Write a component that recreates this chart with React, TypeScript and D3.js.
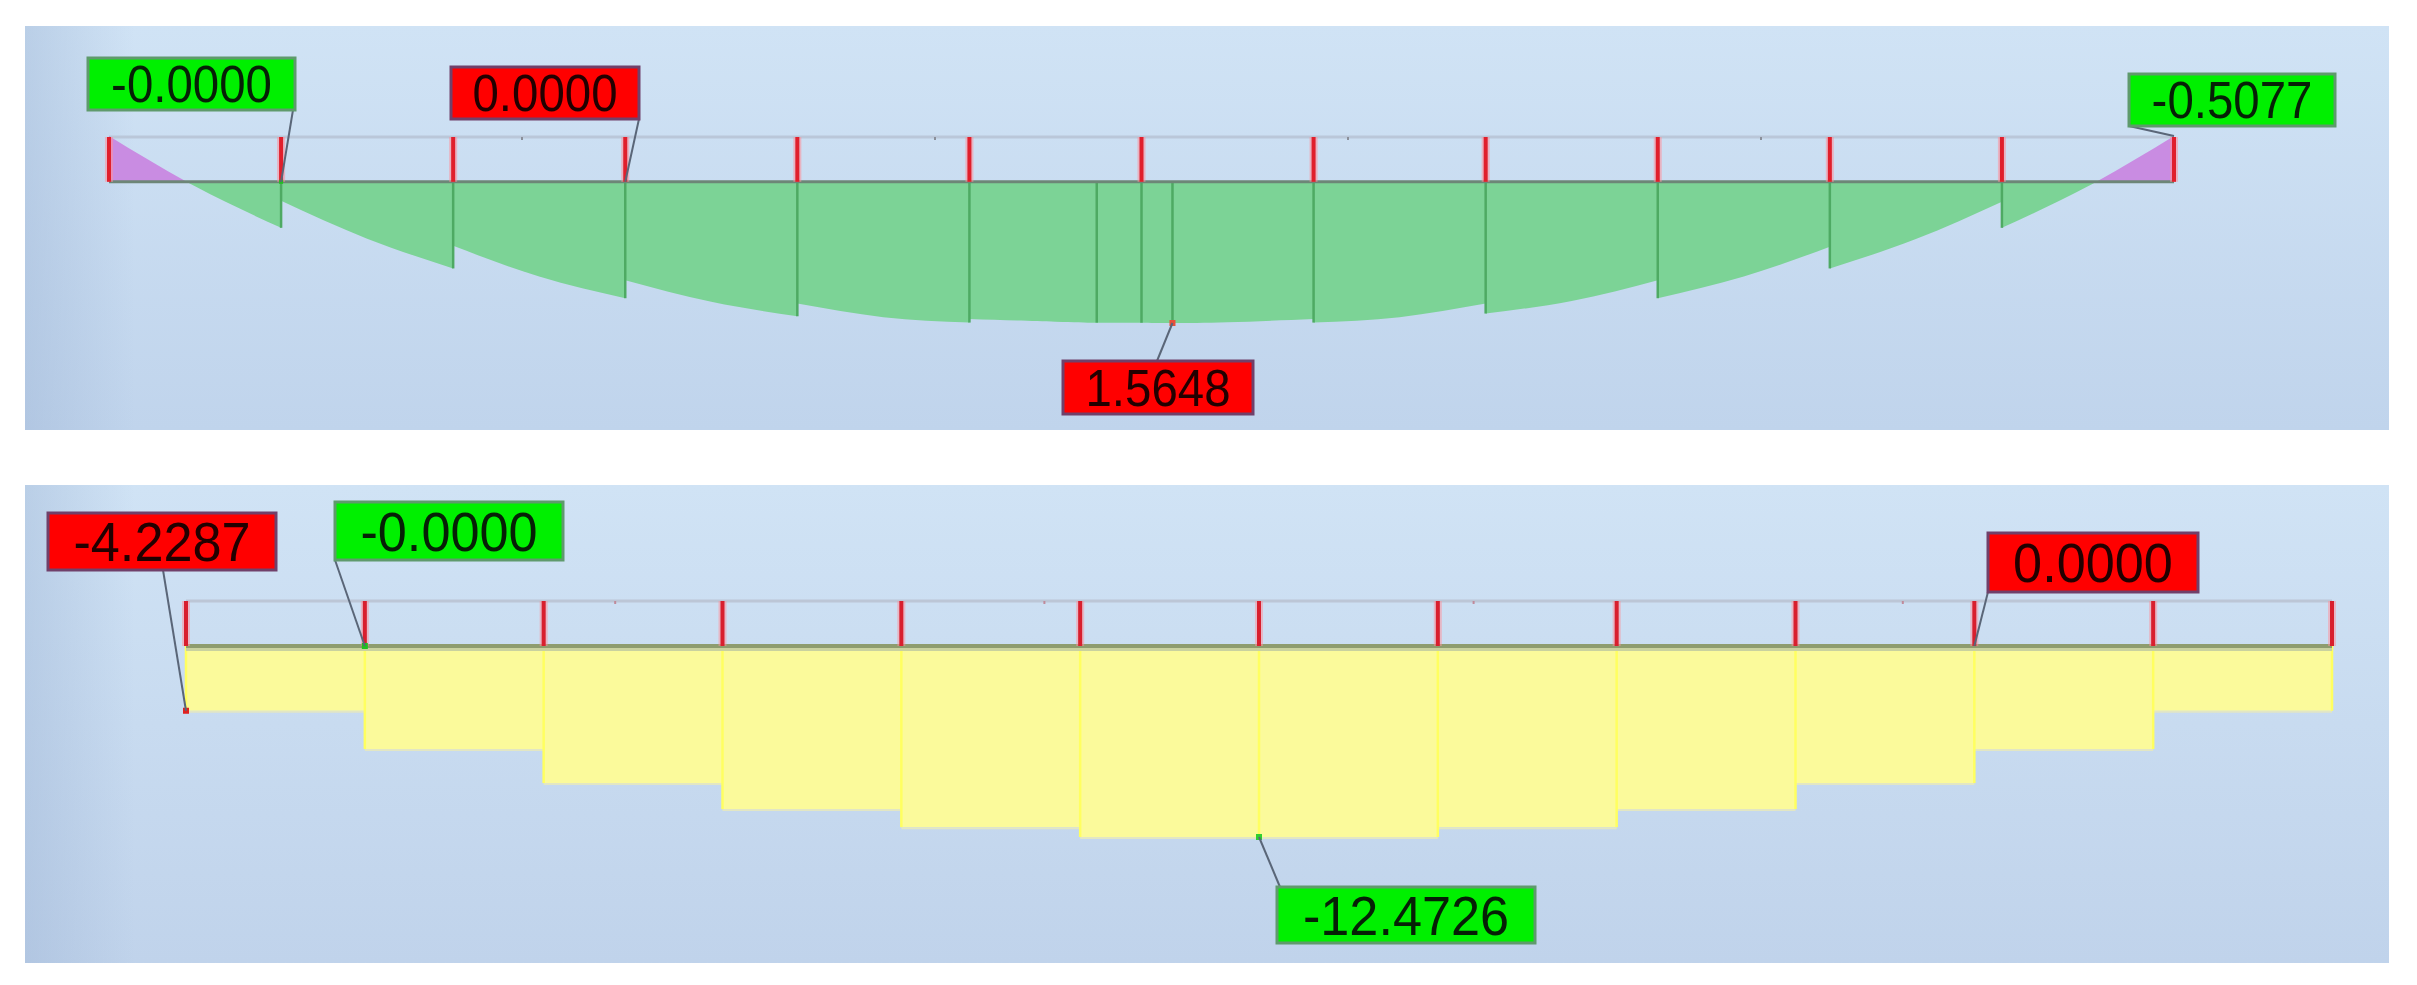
import React from 'react';
import * as d3 from 'd3';

const W = 2417;
const H = 985;

// ---------- DATA ----------
// support positions along the beam (span units)
const supports = [0, 1, 2, 3, 4, 5, 6, 7, 8, 9, 10, 11, 12];
// top diagram: moment per segment (start / mid / end)
const momentStart = [-0.5077, 0.21, 0.71, 1.09, 1.35, 1.52, 1.562, 1.56, 1.46, 1.29, 0.96, 0.51];
const momentMid = [0.05, 0.63, 1.05, 1.33, 1.5, 1.55, 1.556, 1.5, 1.32, 1.05, 0.635, 0.05];
const momentEnd = [0.51, 0.96, 1.29, 1.49, 1.56, 1.562, 1.52, 1.35, 1.09, 0.72, 0.22, -0.5077];
// extra section points inside the segments
const sectionX = [5.74, 6.18];
const sectionM = [1.561, 1.5648];
// small marks on the reference line
const minorMarks = [2.4, 4.8, 7.2, 9.6];
// bottom diagram: constant value per span
const shearValues = [-4.2287, -6.73, -8.95, -10.65, -11.83, -12.4726, -12.4726, -11.83, -10.65, -8.95, -6.73, -4.2287];

// labels: text, kind (max = red, min = green), anchor position (span units, value)
const topLabelText = ['-0.0000', '0.0000', '1.5648', '-0.5077'];
const topLabelKind = ['min', 'max', 'max', 'min'];
const topLabelAt = [[1, 0], [3, 0], [6.18, 1.5648], [12, -0.5077]];
const botLabelText = ['-4.2287', '-0.0000', '-12.4726', '0.0000'];
const botLabelKind = ['max', 'min', 'min', 'max'];
const botLabelAt = [[0, -4.2287], [1, 0], [6, -12.4726], [10, 0]];

// ---------- LAYOUT ----------
const topPanel = { x: 25, y: 26, w: 2364, h: 404 };
const botPanel = { x: 25, y: 485, w: 2364, h: 478 };
const topRefY = 137;
const botRefY = 601;
const topBoxes = [
  { x: 88, y: 58, w: 207, h: 52, lx: 293, ly: 110 },
  { x: 451, y: 67, w: 188, h: 52, lx: 639, ly: 119 },
  { x: 1063, y: 361, w: 190, h: 53, lx: 1157, ly: 361 },
  { x: 2129, y: 74, w: 206, h: 52, lx: 2129, ly: 126 },
];
const botBoxes = [
  { x: 48, y: 513, w: 228, h: 57, lx: 163, ly: 570 },
  { x: 335, y: 502, w: 228, h: 58, lx: 335, ly: 560 },
  { x: 1277, y: 887, w: 258, h: 56, lx: 1280, ly: 887 },
  { x: 1988, y: 533, w: 210, h: 59, lx: 1988, ly: 592 },
];

const xTop = d3.scaleLinear().domain([0, 12]).range([109, 2174]);
const yTop = d3.scaleLinear().domain([-0.5077, 1.5648]).range([136, 323]);
const xBot = d3.scaleLinear().domain([0, 12]).range([186, 2332]);
const yBot = d3.scaleLinear().domain([0, -12.4726]).range([646, 837]);

type P = { x: number; v: number };

function segmentPoints(i: number): P[] {
  const pts: P[] = [
    { x: supports[i], v: momentStart[i] },
    { x: supports[i] + 0.5, v: momentMid[i] },
    { x: supports[i + 1], v: momentEnd[i] },
  ];
  sectionX.forEach((sx, k) => {
    if (sx > supports[i] && sx < supports[i + 1]) pts.push({ x: sx, v: sectionM[k] });
  });
  pts.sort((a, b) => a.x - b.x);
  return pts;
}

const GREEN_BOX = '#00f000';
const RED_BOX = '#ff0000';

function Label({ box, text, kind, ax, ay, fontSize, sx }: any) {
  const fill = kind === 'max' ? RED_BOX : GREEN_BOX;
  const stroke = kind === 'max' ? '#70406a' : '#5f9a6c';
  const textFill = kind === 'max' ? '#220000' : '#062006';
  const cx = box.x + box.w / 2;
  const cy = box.y + box.h / 2 + fontSize * 0.36;
  return (
    <g>
      <line x1={box.lx} y1={box.ly} x2={ax} y2={ay} stroke="#5a6678" strokeWidth={2} />
      <rect x={box.x} y={box.y} width={box.w} height={box.h} fill={fill} stroke={stroke} strokeWidth={3} />
      <text
        transform={`translate(${cx},${cy}) scale(${sx},1)`}
        textAnchor="middle"
        fontFamily="'Liberation Sans', Arial, sans-serif"
        fontSize={fontSize}
        fill={textFill}
      >
        {text}
      </text>
    </g>
  );
}

export default function App() {
  const beamTop = yTop(0);
  const beamBot = yBot(0);
  const area = d3
    .area<P>()
    .x((d) => xTop(d.x))
    .y0(beamTop)
    .y1((d) => yTop(d.v))
    .curve(d3.curveNatural);

  const segs = momentStart.map((_, i) => segmentPoints(i));

  return (
    <svg width={W} height={H} style={{ position: 'absolute', left: 0, top: 0, background: '#fff' }}>
      <defs>
        <linearGradient id="bgTop" x1="0" y1="0" x2="0" y2="1">
          <stop offset="0" stopColor="#d0e3f5" />
          <stop offset="1" stopColor="#c0d4ec" />
        </linearGradient>
        <linearGradient id="bgBot" x1="0" y1="0" x2="0" y2="1">
          <stop offset="0" stopColor="#d0e3f5" />
          <stop offset="1" stopColor="#c0d3eb" />
        </linearGradient>
        <linearGradient id="vig" x1="0" y1="0" x2="1" y2="0">
          <stop offset="0" stopColor="#9fb6d6" stopOpacity="0.45" />
          <stop offset="1" stopColor="#9fb6d6" stopOpacity="0" />
        </linearGradient>
        <clipPath id="below">
          <rect x={0} y={beamTop} width={W} height={400} />
        </clipPath>
        <clipPath id="above">
          <rect x={0} y={0} width={W} height={beamTop} />
        </clipPath>
      </defs>

      {/* ---------- TOP PANEL ---------- */}
      <rect x={topPanel.x} y={topPanel.y} width={topPanel.w} height={topPanel.h} fill="url(#bgTop)" />
      <rect x={topPanel.x} y={topPanel.y} width={110} height={topPanel.h} fill="url(#vig)" />
      <line x1={xTop(0)} x2={xTop(12)} y1={topRefY} y2={topRefY} stroke="#bac7d9" strokeWidth={3} />
      {minorMarks.map((m) => (
        <rect key={m} x={xTop(m) - 1} y={topRefY} width={2} height={3} fill="#8a8f9a" />
      ))}
      <g clipPath="url(#above)">
        {segs.map((s, i) => (
          <path key={i} d={area(s) || ''} fill="#c98ce2" />
        ))}
      </g>
      <g clipPath="url(#below)">
        {segs.map((s, i) => (
          <path key={i} d={area(s) || ''} fill="#7cd396" />
        ))}
      </g>
      {supports.slice(1, 12).map((s, i) => (
        <line
          key={s}
          x1={xTop(s)}
          x2={xTop(s)}
          y1={beamTop}
          y2={Math.max(yTop(momentEnd[i]), yTop(momentStart[i + 1]))}
          stroke="#4eaa63"
          strokeWidth={2.5}
        />
      ))}
      {sectionX.map((sx, k) => (
        <line key={sx} x1={xTop(sx)} x2={xTop(sx)} y1={beamTop} y2={yTop(sectionM[k])} stroke="#4eaa63" strokeWidth={2.5} />
      ))}
      <line x1={xTop(0)} x2={xTop(12)} y1={beamTop} y2={beamTop} stroke="#6d8677" strokeWidth={3} />
      {supports.map((s) => (
        <g key={s}>
          <rect x={xTop(s) - 4} y={topRefY} width={8} height={beamTop - topRefY} fill="#ff8f9a" opacity={0.55} />
          <rect x={xTop(s) - 2} y={topRefY} width={4} height={beamTop - topRefY} fill="#e01f2c" />
        </g>
      ))}
      <rect x={xTop(6.18) - 3} y={yTop(1.5648) - 3} width={6} height={6} fill="#e8503a" />
      <rect x={xTop(1) - 2} y={beamTop - 2} width={4} height={4} fill="#20c020" />
      {topLabelText.map((t, i) => (
        <Label
          key={i}
          box={topBoxes[i]}
          text={t}
          kind={topLabelKind[i]}
          ax={xTop(topLabelAt[i][0])}
          ay={yTop(topLabelAt[i][1])}
          fontSize={51}
          sx={0.93}
        />
      ))}

      {/* ---------- BOTTOM PANEL ---------- */}
      <rect x={botPanel.x} y={botPanel.y} width={botPanel.w} height={botPanel.h} fill="url(#bgBot)" />
      <rect x={botPanel.x} y={botPanel.y} width={110} height={botPanel.h} fill="url(#vig)" />
      <line x1={xBot(0)} x2={xBot(12)} y1={botRefY} y2={botRefY} stroke="#bcc6d6" strokeWidth={3} />
      {minorMarks.map((m) => (
        <rect key={m} x={xBot(m) - 1} y={botRefY} width={2} height={3} fill="#c08a9a" />
      ))}
      {shearValues.map((v, i) => (
        <g key={i}>
          <rect
            x={xBot(supports[i])}
            y={beamBot}
            width={xBot(supports[i + 1]) - xBot(supports[i])}
            height={yBot(v) - beamBot}
            fill="#fbfa9b"
          />
          <line
            x1={xBot(supports[i])}
            x2={xBot(supports[i + 1])}
            y1={yBot(v) + 1}
            y2={yBot(v) + 1}
            stroke="#e2e6c4"
            strokeWidth={2}
          />
        </g>
      ))}
      {supports.map((s, i) => {
        const l = i > 0 ? yBot(shearValues[i - 1]) : beamBot;
        const r = i < 12 ? yBot(shearValues[i]) : beamBot;
        return <line key={s} x1={xBot(s)} x2={xBot(s)} y1={beamBot} y2={Math.max(l, r)} stroke="#ffff60" strokeWidth={2.5} />;
      })}
      <line x1={xBot(0)} x2={xBot(12)} y1={beamBot + 3.5} y2={beamBot + 3.5} stroke="#c9d19f" strokeWidth={3} />
      <line x1={xBot(0)} x2={xBot(12)} y1={beamBot} y2={beamBot} stroke="#8e9c6e" strokeWidth={4} />
      {supports.map((s) => (
        <g key={s}>
          <rect x={xBot(s) - 4} y={botRefY} width={8} height={beamBot - botRefY} fill="#ff8f9a" opacity={0.5} />
          <rect x={xBot(s) - 2} y={botRefY} width={4} height={beamBot - botRefY} fill="#d81f2e" />
        </g>
      ))}
      <rect x={xBot(0) - 3} y={yBot(-4.2287) - 3} width={6} height={6} fill="#e02020" />
      <rect x={xBot(6) - 3} y={yBot(-12.4726) - 3} width={6} height={6} fill="#30d030" />
      <rect x={xBot(1) - 3} y={beamBot - 3} width={6} height={6} fill="#20c020" />
      {botLabelText.map((t, i) => (
        <Label
          key={i}
          box={botBoxes[i]}
          text={t}
          kind={botLabelKind[i]}
          ax={xBot(botLabelAt[i][0])}
          ay={yBot(botLabelAt[i][1])}
          fontSize={55}
          sx={0.95}
        />
      ))}
    </svg>
  );
}
